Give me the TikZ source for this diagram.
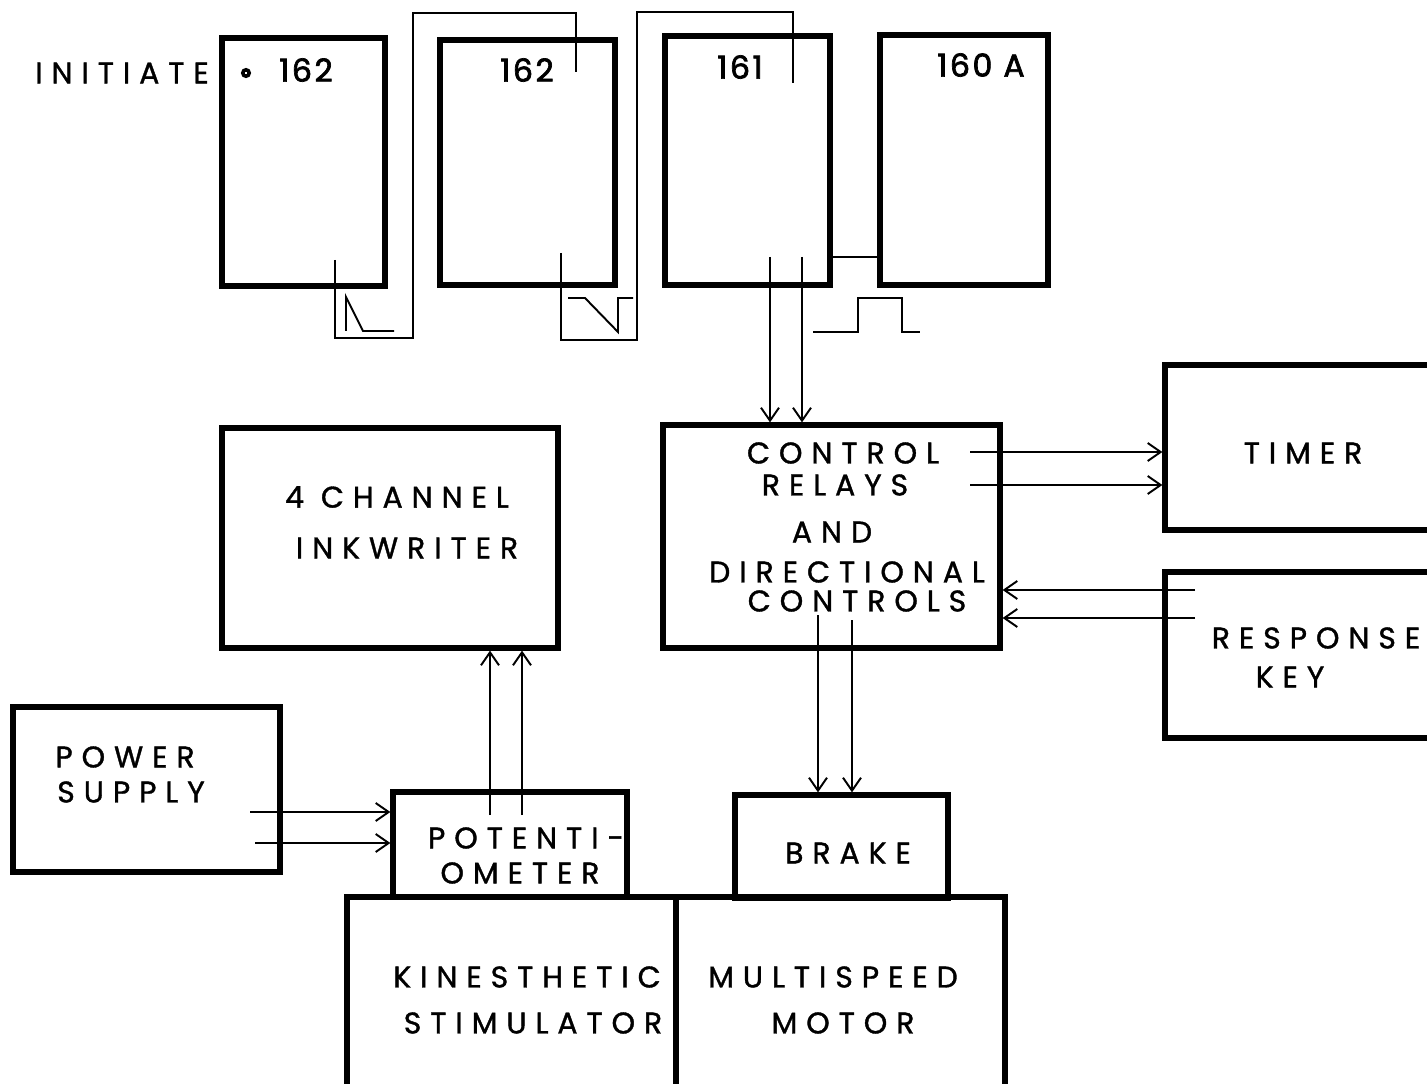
\documentclass[tikz,border=0pt]{standalone}
\usepackage{fontspec}
\newfontfamily\diagfont[LetterSpace=30,FakeBold=1.2]{Poppins}
\newfontfamily\numfont[LetterSpace=8,FakeBold=2.2]{Poppins}
\usetikzlibrary{arrows.meta}

\begin{document}
\begin{tikzpicture}[
    x=0.02cm, y=-0.02cm,
    blk/.style={rectangle, draw, line width=3pt, inner sep=0pt},
    lbl/.style={font=\diagfont\fontsize{17}{20}\selectfont, inner sep=0pt},
    num/.style={font=\numfont\fontsize{18}{20}\selectfont, inner sep=0pt},
    wire/.style={line width=1.1pt},
    arr/.style={line width=1.1pt, -{Straight Barb[length=2.6mm,width=3.6mm]}}
  ]
  \useasboundingbox (0,0) rectangle (1427,1084);

  % timing units
  \node[blk, minimum width=3.26cm, minimum height=4.96cm] (relA) at (303.5,162) {};
  \node[blk, minimum width=3.5cm,  minimum height=4.9cm]  (relB) at (527.5,162.5) {};
  \node[blk, minimum width=3.3cm,  minimum height=4.98cm] (relC) at (747.5,160.5) {};
  \node[blk, minimum width=3.36cm, minimum height=5cm]    (relD) at (964,160) {};
  \node[lbl] (initLbl) at (122,73) {INITIATE};
  \node[circle, draw, line width=2pt, minimum size=0.13cm, inner sep=0pt] (initDot) at (246,73) {};
  \node[num] (relAnum) at (306,70) {162};
  \node[num] (relBnum) at (527,70) {162};
  \node[num] (relCnum) at (740,67) {161};
  \node[num] (relDnum) at (981,65) {160 A};

  % lower blocks
  \node[blk, minimum width=6.74cm, minimum height=4.46cm] (ctl)   at (831.5,536.5) {};
  \node[blk, minimum width=5.5cm,  minimum height=3.3cm]  (timer) at (1302.5,447.5) {};
  \node[blk, minimum width=5.5cm,  minimum height=3.32cm] (key)   at (1302.5,655) {};
  \node[blk, minimum width=6.72cm, minimum height=4.4cm]  (ink)   at (390,538) {};
  \node[blk, minimum width=4.68cm, minimum height=2.1cm]  (pot)   at (510,844.5) {};
  \node[blk, minimum width=4.26cm, minimum height=2.06cm] (brake) at (841.5,846.5) {};
  \node[blk, minimum width=5.34cm, minimum height=3.3cm]  (power) at (146.5,789.5) {};
  \node[blk, minimum width=6.58cm, minimum height=3.96cm] (kin)   at (511.5,996) {};
  \node[blk, minimum width=6.58cm, minimum height=3.96cm] (motor) at (840.5,996) {};

  \node[lbl] (inkA)   at (397,497)  {4 CHANNEL};
  \node[lbl] (inkB)   at (407,548)  {INKWRITER};
  \node[lbl] (ctlA)   at (843,453)  {CONTROL};
  \node[lbl] (ctlB)   at (835,485)  {RELAYS};
  \node[lbl] (ctlC)   at (832,532)  {AND};
  \node[lbl] (ctlD)   at (847,572)  {DIRECTIONAL};
  \node[lbl] (ctlE)   at (857,601)  {CONTROLS};
  \node[lbl] (timerA) at (1303,453) {TIMER};
  \node[lbl] (keyA)   at (1316,638) {RESPONSE};
  \node[lbl] (keyB)   at (1290,677) {KEY};
  \node[lbl] (powerA) at (125,757)  {POWER};
  \node[lbl] (powerB) at (131,792)  {SUPPLY};
  \node[lbl] (potA)   at (526,838)  {POTENTI-};
  \node[lbl] (potB)   at (520,873)  {OMETER};
  \node[lbl] (brakeA) at (848,853)  {BRAKE};
  \node[lbl] (kinA)   at (527,977)  {KINESTHETIC};
  \node[lbl] (kinB)   at (533,1023) {STIMULATOR};
  \node[lbl] (motorA) at (833,977)  {MULTISPEED};
  \node[lbl] (motorB) at (843,1023) {MOTOR};

  % trigger chain
  \coordinate (aOut) at (335,260);
  \coordinate (bIn)  at (576,72);
  \coordinate (bOut) at (561,253);
  \coordinate (cIn)  at (793,83);
  \coordinate (cdLink) at (850,257);
  \draw[wire] (aOut) -- (335,338) -- (413,338) -- (413,13) -- (576,13) -- (bIn);
  \draw[wire] (bOut) -- (561,340) -- (637,340) -- (637,12) -- (793,12) -- (cIn);
  \draw[wire] (relC.east |- cdLink) -- (relD.west |- cdLink);

  % wave forms
  \draw[wire] (346,331) -- (346,297) -- (363,331) -- (394,331);
  \draw[wire] (568,298) -- (585,298) -- (618,332) -- (618,298) -- (633,298);
  \draw[wire] (813,332) -- (858,332) -- (858,298) -- (902,298) -- (902,332) -- (920,332);

  % signal arrows
  \coordinate (cOut1) at (770,257);
  \coordinate (cOut2) at (802,257);
  \draw[arr] (cOut1) -- (cOut1 |- ctl.north);
  \draw[arr] (cOut2) -- (cOut2 |- ctl.north);
  \coordinate (tIn1) at (970,452);
  \coordinate (tIn2) at (970,485);
  \draw[arr] (tIn1) -- (tIn1 -| timer.west);
  \draw[arr] (tIn2) -- (tIn2 -| timer.west);
  \coordinate (kOut1) at (1195,590);
  \coordinate (kOut2) at (1195,618);
  \draw[arr] (kOut1) -- (kOut1 -| ctl.east);
  \draw[arr] (kOut2) -- (kOut2 -| ctl.east);
  \coordinate (bkIn1) at (818,615);
  \coordinate (bkIn2) at (852,620);
  \draw[arr] (bkIn1) -- (bkIn1 |- brake.north);
  \draw[arr] (bkIn2) -- (bkIn2 |- brake.north);
  \coordinate (pOut1) at (490,815);
  \coordinate (pOut2) at (522,815);
  \draw[arr] (pOut1) -- (pOut1 |- ink.south);
  \draw[arr] (pOut2) -- (pOut2 |- ink.south);
  \coordinate (psOut1) at (250,812);
  \coordinate (psOut2) at (255,843);
  \draw[arr] (psOut1) -- (psOut1 -| pot.west);
  \draw[arr] (psOut2) -- (psOut2 -| pot.west);
\end{tikzpicture}
\end{document}
